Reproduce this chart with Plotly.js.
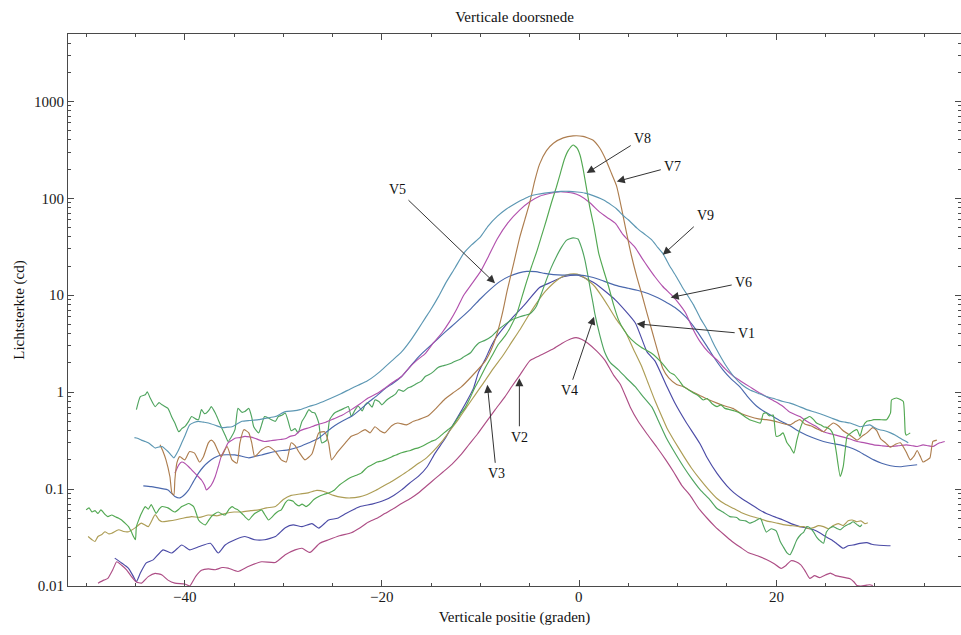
<!DOCTYPE html>
<html>
<head>
<meta charset="utf-8">
<script src="https://cdn.plot.ly/plotly-3.0.1.min.js"></script>
<style>
  html, body { margin: 0; padding: 0; background: #fff; }
  #chart { width: 961px; height: 635px; }
</style>
</head>
<body>
<div id="chart"></div>
<script>
// Vertical cross sections V1..V9: [position (degrees), luminous intensity (cd)]
const v1Pts = [[-47.1,0.0194],[-46.4,0.0173],[-45.7,0.0152],[-45.2,0.0125],[-44.9,0.0111],[-44.5,0.0136],[-43.9,0.0173],[-43.2,0.0186],[-42.2,0.0236],[-41.3,0.0219],[-40.3,0.0265],[-39.5,0.0236],[-38.5,0.0256],[-37.4,0.0276],[-36.6,0.0219],[-35.9,0.0265],[-34.9,0.030],[-33.9,0.0324],[-32.9,0.030],[-31.9,0.030],[-30.8,0.0324],[-29.8,0.040],[-29.0,0.0427],[-28.1,0.041],[-27.1,0.044],[-26.4,0.0396],[-25.4,0.048],[-24.5,0.050],[-23.6,0.0563],[-22.2,0.066],[-21.0,0.070],[-19.7,0.077],[-18.8,0.086],[-18.0,0.098],[-17.2,0.115],[-16.3,0.135],[-15.4,0.17],[-14.6,0.235],[-13.6,0.33],[-12.9,0.44],[-12.1,0.6],[-11.4,0.8],[-10.7,1.1],[-10.2,1.6],[-9.5,2.2],[-8.9,3.0],[-8.3,3.8],[-7.0,5.5],[-5.6,7.8],[-4.0,12],[-2.9,13.5],[-1.6,15.5],[-0.2,16.2],[1.6,13.3],[3.7,8.9],[5.7,5.2],[6.9,2.6],[7.7,2.1],[8.9,1.15],[9.7,0.78],[10.8,0.5],[12.3,0.29],[13.0,0.21],[14.0,0.145],[15.0,0.108],[15.7,0.092],[16.5,0.08],[17.3,0.071],[18.2,0.062],[19.0,0.056],[20.0,0.051],[20.7,0.048],[21.5,0.044],[22.4,0.041],[23.1,0.0396],[23.8,0.038],[24.5,0.035],[25.1,0.032],[25.6,0.030],[26.1,0.0276],[26.8,0.0245],[27.3,0.026],[27.8,0.0265],[28.5,0.0275],[29.2,0.028],[29.7,0.027],[30.2,0.0265],[30.9,0.0262],[31.6,0.026]];

const v2Pts = [[-48.8,0.0107],[-48.2,0.0115],[-47.8,0.012],[-47.3,0.0147],[-46.9,0.0178],[-46.4,0.0164],[-45.9,0.0147],[-45.4,0.0125],[-44.9,0.011],[-44.4,0.0107],[-43.7,0.0125],[-43.0,0.0135],[-42.3,0.013],[-41.7,0.0115],[-41.0,0.0107],[-40.0,0.0105],[-39.5,0.0100],[-38.9,0.0125],[-38.3,0.0145],[-37.6,0.0150],[-36.9,0.0147],[-36.2,0.0155],[-35.6,0.0153],[-34.6,0.0141],[-33.5,0.016],[-32.2,0.0178],[-30.8,0.0175],[-29.8,0.021],[-28.8,0.0236],[-28.1,0.0245],[-27.3,0.0222],[-26.3,0.0276],[-25.4,0.030],[-24.3,0.033],[-23.1,0.0355],[-22.2,0.040],[-21.4,0.0455],[-20.5,0.050],[-19.7,0.056],[-18.8,0.063],[-18.0,0.071],[-17.1,0.080],[-16.3,0.091],[-15.5,0.107],[-14.6,0.128],[-13.8,0.15],[-12.9,0.18],[-12.0,0.225],[-11.2,0.285],[-10.3,0.37],[-9.5,0.48],[-8.5,0.66],[-7.5,0.9],[-6.8,1.15],[-6.0,1.5],[-5.0,2.1],[-4.3,2.3],[-3.4,2.55],[-2.6,2.8],[-1.7,3.2],[-0.8,3.55],[-0.3,3.65],[0.3,3.5],[0.9,3.2],[1.8,2.65],[2.6,2.15],[3.5,1.5],[4.2,1.2],[5.2,0.7],[6.0,0.5],[6.9,0.37],[7.9,0.27],[8.8,0.2],[9.6,0.15],[10.4,0.11],[11.3,0.085],[12.1,0.064],[13.0,0.05],[13.8,0.041],[14.7,0.034],[15.5,0.029],[16.4,0.025],[17.2,0.022],[18.1,0.0205],[19.0,0.0188],[19.8,0.017],[20.5,0.0152],[21.0,0.0163],[21.5,0.0182],[22.0,0.0178],[22.5,0.0165],[22.9,0.0145],[23.4,0.012],[23.9,0.0128],[24.4,0.0122],[25.0,0.013],[25.5,0.0136],[26.0,0.0128],[26.5,0.0125],[27.0,0.0122],[27.5,0.0119],[27.9,0.011],[28.2,0.0101],[28.6,0.0100],[29.2,0.0102],[29.5,0.0103],[29.8,0.0101]];

const v3Pts = [[-49.8,0.0324],[-49.4,0.030],[-49.1,0.0288],[-48.8,0.0324],[-48.4,0.034],[-48.1,0.0363],[-47.7,0.0345],[-47.4,0.035],[-46.7,0.038],[-46.2,0.0365],[-45.7,0.0363],[-45.0,0.040],[-44.4,0.0445],[-43.7,0.041],[-43.0,0.0545],[-42.6,0.048],[-42.3,0.046],[-41.6,0.047],[-41.0,0.048],[-40.2,0.050],[-39.3,0.052],[-38.5,0.051],[-37.6,0.054],[-36.7,0.053],[-35.9,0.056],[-35.0,0.058],[-34.2,0.058],[-33.3,0.060],[-32.5,0.061],[-31.7,0.064],[-30.8,0.066],[-30.0,0.078],[-29.2,0.086],[-28.3,0.089],[-27.4,0.092],[-26.6,0.097],[-25.8,0.094],[-24.9,0.086],[-24.0,0.082],[-23.2,0.081],[-22.3,0.083],[-21.5,0.088],[-20.6,0.097],[-19.8,0.108],[-19.0,0.12],[-18.2,0.135],[-17.3,0.155],[-16.5,0.178],[-15.6,0.205],[-14.8,0.245],[-13.9,0.31],[-13.1,0.40],[-12.2,0.53],[-11.4,0.70],[-10.5,0.95],[-9.7,1.24],[-8.7,1.75],[-7.7,2.4],[-6.9,3.2],[-6.0,4.4],[-5.2,6.0],[-4.3,8.3],[-3.4,11],[-2.6,13.3],[-1.7,15.5],[-0.9,16.5],[-0.2,16.5],[0.5,15.3],[1.0,14],[1.6,12.3],[2.3,9.8],[3.0,7.6],[3.8,5.6],[4.7,4.2],[5.5,2.8],[6.4,1.8],[7.0,1.25],[7.7,0.82],[8.4,0.56],[8.9,0.43],[9.7,0.31],[10.6,0.22],[11.4,0.165],[12.3,0.125],[13.1,0.1],[14.0,0.08],[14.8,0.07],[15.7,0.063],[16.5,0.057],[17.3,0.053],[18.2,0.050],[19.0,0.047],[19.9,0.045],[20.7,0.043],[21.5,0.042],[22.3,0.041],[22.8,0.041],[23.3,0.039],[23.8,0.040],[24.3,0.042],[24.8,0.041],[25.3,0.039],[25.8,0.042],[26.3,0.044],[26.8,0.042],[27.3,0.047],[27.7,0.048],[28.2,0.046],[28.6,0.047],[29.0,0.044],[29.3,0.045]];

const v4Pts = [[-44.9,0.66],[-44.5,0.90],[-44.0,0.94],[-43.8,1.01],[-43.5,0.87],[-43.0,0.71],[-42.6,0.78],[-42.3,0.74],[-41.7,0.68],[-41.3,0.55],[-41.0,0.48],[-40.6,0.39],[-40.3,0.42],[-40.0,0.44],[-39.6,0.50],[-39.3,0.56],[-38.9,0.53],[-38.6,0.52],[-38.3,0.66],[-38.0,0.60],[-37.8,0.61],[-37.5,0.66],[-37.3,0.71],[-36.9,0.61],[-36.6,0.52],[-36.3,0.44],[-35.9,0.36],[-35.6,0.31],[-35.3,0.34],[-34.9,0.41],[-34.6,0.68],[-34.2,0.62],[-33.9,0.63],[-33.5,0.68],[-33.2,0.55],[-33.0,0.44],[-32.5,0.38],[-32.2,0.46],[-31.9,0.56],[-31.5,0.54],[-31.2,0.52],[-30.8,0.50],[-30.5,0.56],[-30.1,0.58],[-29.8,0.61],[-29.5,0.50],[-29.2,0.40],[-28.8,0.42],[-28.5,0.38],[-28.1,0.50],[-27.8,0.56],[-27.4,0.66],[-27.1,0.62],[-26.8,0.61],[-26.4,0.48],[-26.1,0.30],[-25.6,0.32],[-25.3,0.52],[-24.8,0.61],[-24.4,0.64],[-24.1,0.66],[-23.7,0.69],[-23.4,0.71],[-23.1,0.56],[-22.7,0.66],[-22.4,0.72],[-22.0,0.64],[-21.7,0.74],[-21.4,0.78],[-21.0,0.70],[-20.7,0.83],[-20.3,0.80],[-20.0,0.74],[-19.5,0.83],[-19.0,0.90],[-18.6,0.96],[-18.3,1.06],[-17.8,1.02],[-17.4,1.10],[-17.0,1.14],[-16.5,1.22],[-16.0,1.30],[-15.6,1.45],[-15.2,1.52],[-14.8,1.62],[-14.3,1.8],[-13.9,1.86],[-13.4,1.92],[-12.9,2.0],[-12.5,2.1],[-12.0,2.2],[-11.6,2.35],[-11.0,2.55],[-10.6,2.9],[-10.2,3.2],[-9.6,3.4],[-8.9,3.75],[-8.2,4.4],[-7.5,5.0],[-6.8,5.6],[-6.0,6.0],[-5.5,6.2],[-5.0,6.4],[-4.6,7.0],[-4.3,7.8],[-3.8,10.5],[-3.3,14.5],[-2.8,19.5],[-2.3,25],[-1.8,31],[-1.25,37],[-0.6,39],[-0.1,38],[0.3,30],[0.6,23],[0.9,16],[1.1,12.3],[1.4,8.5],[1.6,6.5],[2.1,3.9],[2.6,2.6],[3.2,2.0],[4.0,1.7],[4.8,1.4],[5.7,1.14],[6.5,0.9],[7.4,0.7],[8.0,0.52],[8.9,0.33],[9.8,0.23],[10.6,0.17],[11.5,0.125],[12.3,0.098],[13.3,0.077],[14.0,0.063],[14.6,0.058],[15.3,0.052],[16.0,0.051],[16.3,0.048],[16.9,0.047],[17.3,0.0445],[17.9,0.047],[18.4,0.050],[18.7,0.042],[19.0,0.036],[19.5,0.039],[20.0,0.037],[20.4,0.029],[20.7,0.0256],[21.1,0.022],[21.4,0.021],[21.7,0.024],[22.1,0.030],[22.5,0.034],[22.8,0.036],[23.1,0.041],[23.4,0.040],[23.8,0.036],[24.1,0.032],[24.5,0.029],[24.8,0.0276],[25.1,0.036],[25.5,0.040],[25.8,0.041],[26.2,0.039],[26.5,0.038],[26.9,0.041],[27.2,0.0427],[27.5,0.044],[27.8,0.046],[28.2,0.043],[28.5,0.041],[28.7,0.043]];

const v5Pts = [[-44.2,0.108],[-43.4,0.106],[-42.3,0.101],[-41.7,0.098],[-41.0,0.084],[-40.5,0.081],[-40.0,0.088],[-39.6,0.098],[-39.1,0.12],[-38.6,0.146],[-38.1,0.17],[-37.6,0.19],[-37.0,0.21],[-36.3,0.225],[-35.6,0.226],[-34.9,0.225],[-34.2,0.218],[-33.5,0.21],[-32.9,0.217],[-32.2,0.225],[-31.5,0.235],[-30.8,0.244],[-30.1,0.25],[-29.5,0.254],[-28.3,0.275],[-27.4,0.30],[-26.5,0.33],[-25.6,0.39],[-24.8,0.45],[-23.9,0.51],[-23.1,0.56],[-22.2,0.66],[-21.4,0.78],[-20.5,0.92],[-19.7,1.08],[-18.8,1.25],[-18.0,1.45],[-17.1,1.85],[-16.3,2.3],[-15.6,2.7],[-14.8,3.2],[-13.9,3.9],[-13.0,4.7],[-12.0,5.8],[-11.0,7.2],[-10.0,9.2],[-9.0,11.5],[-8.0,13.9],[-7.0,15.8],[-6.1,17],[-5.3,17.6],[-4.4,17.5],[-3.5,16.8],[-2.6,16.3],[-1.7,16.1],[-0.8,16.2],[0.1,16.1],[1.0,15.6],[2.0,14.6],[3.0,13.4],[4.0,12.4],[5.0,11.8],[6.0,11.2],[7.0,10.4],[8.0,9.4],[8.8,8.5],[9.7,7.5],[10.8,6.0],[11.8,4.5],[13.0,2.95],[13.8,2.2],[14.6,1.7],[15.4,1.38],[16.3,1.14],[17.1,0.9],[18.0,0.72],[18.8,0.63],[19.7,0.56],[20.5,0.5],[21.4,0.45],[22.2,0.4],[23.1,0.36],[24.0,0.33],[24.8,0.31],[25.7,0.295],[26.5,0.286],[27.4,0.27],[28.2,0.25],[29.0,0.225],[29.9,0.20],[30.7,0.185],[31.6,0.174],[32.6,0.17],[33.4,0.174],[34.3,0.178]];

const v6Pts = [[-41.0,0.146],[-40.6,0.178],[-40.3,0.19],[-40.0,0.185],[-39.6,0.17],[-39.3,0.158],[-38.8,0.14],[-38.3,0.124],[-38.0,0.11],[-37.8,0.098],[-37.5,0.104],[-37.3,0.11],[-36.9,0.135],[-36.6,0.17],[-36.3,0.216],[-35.9,0.26],[-35.6,0.30],[-35.2,0.32],[-34.9,0.335],[-34.4,0.34],[-33.9,0.35],[-33.4,0.345],[-32.9,0.335],[-32.4,0.32],[-31.9,0.31],[-31.3,0.315],[-30.8,0.32],[-30.3,0.325],[-29.8,0.33],[-29.3,0.35],[-28.8,0.36],[-28.3,0.40],[-27.4,0.43],[-26.6,0.46],[-25.7,0.49],[-24.9,0.53],[-24.0,0.58],[-23.1,0.66],[-22.2,0.76],[-21.4,0.87],[-20.4,0.98],[-19.6,1.12],[-18.8,1.28],[-18.0,1.45],[-17.2,1.8],[-16.4,2.15],[-15.6,2.5],[-14.8,3.2],[-13.9,4.1],[-13.1,5.4],[-12.4,7.2],[-11.7,10],[-10.9,13],[-10.0,17.5],[-9.2,25],[-8.3,38],[-7.2,56],[-6.0,76],[-5.0,92],[-4.0,105],[-3.0,112],[-1.9,117],[-0.6,113],[0.1,106],[1.1,90],[2.1,72],[3.0,62],[3.7,55],[4.4,43],[5.1,36],[5.7,31],[6.4,24],[7.0,19.5],[7.7,15.5],[8.5,12.3],[9.4,10],[10.1,8.3],[10.8,6.6],[11.5,4.6],[12.3,3.3],[13.1,2.6],[14.0,2.15],[14.8,1.75],[15.7,1.45],[16.5,1.28],[17.3,1.14],[18.2,1.0],[19.0,0.9],[19.9,0.8],[20.7,0.71],[21.4,0.62],[22.4,0.56],[23.1,0.5],[23.4,0.48],[24.1,0.44],[24.8,0.39],[25.6,0.37],[26.5,0.35],[27.4,0.33],[28.2,0.31],[29.0,0.3],[29.9,0.286],[30.7,0.28],[31.6,0.275],[32.4,0.28],[33.2,0.286],[33.8,0.28],[34.3,0.275],[34.9,0.286],[35.4,0.28],[35.9,0.275],[36.3,0.29],[36.6,0.30],[37.1,0.31]];

const v7Pts = [[-42.5,0.286],[-42.2,0.244],[-41.9,0.2],[-41.5,0.134],[-41.3,0.091],[-41.1,0.087],[-41.0,0.124],[-40.8,0.185],[-40.5,0.216],[-40.0,0.2],[-39.5,0.244],[-39.0,0.235],[-38.5,0.19],[-38.1,0.216],[-37.6,0.30],[-37.3,0.32],[-37.0,0.30],[-36.6,0.244],[-36.3,0.216],[-35.7,0.275],[-35.2,0.2],[-34.7,0.185],[-34.4,0.30],[-34.0,0.41],[-33.5,0.38],[-33.2,0.30],[-32.9,0.216],[-32.2,0.254],[-31.5,0.275],[-30.8,0.244],[-30.2,0.2],[-29.7,0.19],[-29.2,0.30],[-28.8,0.28],[-28.4,0.24],[-27.8,0.2],[-27.1,0.23],[-26.4,0.38],[-25.8,0.39],[-25.4,0.30],[-25.1,0.2],[-24.5,0.24],[-23.7,0.30],[-23.1,0.35],[-22.5,0.37],[-21.7,0.41],[-21.2,0.38],[-20.7,0.44],[-20.2,0.40],[-19.7,0.38],[-19.0,0.45],[-18.4,0.48],[-17.5,0.46],[-16.8,0.50],[-16.3,0.52],[-15.3,0.57],[-14.5,0.68],[-13.6,0.85],[-12.8,0.98],[-12.0,1.12],[-10.9,1.45],[-9.5,2.1],[-8.8,2.9],[-8.2,4.4],[-7.7,7],[-7.3,11],[-6.6,22],[-6.0,40],[-5.5,60],[-5.0,90],[-4.5,150],[-4.0,225],[-3.3,310],[-2.6,370],[-1.6,420],[-0.6,440],[0.4,435],[1.4,400],[2.1,330],[2.8,240],[3.3,180],[3.8,135],[4.3,80],[4.8,45],[5.3,26],[5.9,15],[6.4,10],[6.9,6.5],[7.4,4.3],[8.0,2.6],[8.5,1.75],[9.1,1.4],[9.9,1.2],[10.6,1.14],[11.4,1.02],[12.3,0.92],[13.1,0.84],[14.0,0.77],[14.8,0.72],[15.6,0.68],[16.5,0.6],[17.3,0.56],[18.2,0.53],[19.0,0.52],[19.9,0.5],[20.5,0.48],[21.4,0.46],[22.0,0.50],[22.4,0.52],[22.9,0.47],[23.5,0.45],[24.1,0.42],[24.8,0.39],[25.3,0.44],[25.8,0.48],[26.3,0.45],[26.8,0.40],[27.5,0.36],[28.2,0.32],[28.7,0.35],[29.2,0.38],[29.8,0.43],[30.2,0.40],[30.6,0.33],[31.1,0.30],[31.6,0.27],[32.1,0.29],[32.6,0.30],[33.2,0.24],[33.6,0.20],[34.0,0.22],[34.3,0.25],[34.6,0.22],[34.9,0.19],[35.3,0.20],[35.6,0.21],[35.9,0.31],[36.3,0.32]];

const v8Pts = [[-50.0,0.061],[-49.7,0.064],[-49.4,0.058],[-49.1,0.060],[-48.8,0.056],[-48.5,0.061],[-48.1,0.055],[-47.8,0.052],[-47.4,0.054],[-47.1,0.052],[-46.7,0.050],[-46.4,0.048],[-46.0,0.044],[-45.7,0.041],[-45.4,0.036],[-45.2,0.0324],[-45.0,0.030],[-44.9,0.041],[-44.6,0.050],[-44.4,0.056],[-44.0,0.066],[-43.7,0.062],[-43.4,0.069],[-42.9,0.056],[-42.6,0.062],[-42.3,0.066],[-41.7,0.064],[-41.3,0.060],[-41.0,0.058],[-40.6,0.062],[-40.3,0.066],[-39.9,0.069],[-39.6,0.071],[-39.1,0.066],[-38.8,0.055],[-38.6,0.048],[-38.2,0.044],[-37.9,0.0427],[-37.6,0.047],[-37.3,0.052],[-36.9,0.056],[-36.6,0.058],[-36.2,0.055],[-35.9,0.054],[-35.5,0.062],[-35.2,0.066],[-34.9,0.063],[-34.6,0.061],[-34.2,0.056],[-33.9,0.052],[-33.5,0.048],[-33.2,0.052],[-32.9,0.056],[-32.5,0.059],[-32.2,0.061],[-31.9,0.055],[-31.5,0.048],[-31.1,0.052],[-30.8,0.056],[-30.5,0.059],[-30.2,0.061],[-29.8,0.072],[-29.5,0.077],[-29.0,0.075],[-28.8,0.071],[-28.4,0.067],[-28.1,0.070],[-27.7,0.066],[-27.4,0.069],[-26.9,0.078],[-26.4,0.084],[-25.9,0.088],[-25.4,0.091],[-24.8,0.098],[-24.3,0.11],[-23.9,0.118],[-23.4,0.128],[-23.0,0.134],[-22.5,0.14],[-22.1,0.146],[-21.7,0.16],[-21.4,0.17],[-20.9,0.18],[-20.5,0.19],[-20.0,0.195],[-19.7,0.2],[-19.2,0.21],[-18.8,0.22],[-18.4,0.228],[-18.0,0.237],[-17.5,0.245],[-17.1,0.25],[-16.7,0.26],[-16.3,0.266],[-15.8,0.28],[-15.4,0.295],[-15.0,0.31],[-14.6,0.32],[-14.1,0.35],[-13.7,0.38],[-13.3,0.41],[-12.9,0.44],[-12.4,0.52],[-12.0,0.6],[-11.6,0.68],[-11.1,0.85],[-10.6,1.1],[-10.2,1.3],[-9.5,1.8],[-8.8,2.4],[-8.2,3.1],[-7.5,3.8],[-7.0,4.6],[-6.3,6.5],[-5.8,9.5],[-5.3,14],[-4.8,20],[-4.3,28],[-3.8,41],[-3.3,60],[-2.8,90],[-2.3,130],[-1.9,180],[-1.5,250],[-1.1,310],[-0.6,355],[-0.2,330],[0.1,280],[0.4,205],[0.8,120],[1.1,80],[1.5,52],[2.0,27],[2.5,18],[3.0,12.3],[3.5,8],[4.0,5.6],[4.6,4.3],[5.3,3.5],[6.3,2.9],[7.4,2.5],[8.4,2.0],[9.2,1.6],[9.7,1.5],[10.2,1.3],[10.6,1.14],[11.1,1.06],[11.6,0.98],[12.1,0.92],[12.6,0.83],[13.0,0.86],[13.5,0.76],[14.0,0.71],[14.4,0.74],[14.8,0.68],[15.3,0.66],[15.8,0.64],[16.3,0.61],[16.8,0.56],[17.3,0.52],[17.8,0.5],[18.4,0.48],[18.7,0.6],[19.0,0.61],[19.3,0.57],[19.7,0.58],[20.0,0.35],[20.4,0.36],[20.7,0.38],[21.1,0.30],[21.4,0.275],[21.8,0.235],[22.1,0.32],[22.4,0.41],[22.8,0.52],[23.1,0.54],[23.4,0.56],[23.8,0.52],[24.1,0.48],[24.5,0.46],[24.8,0.44],[25.2,0.43],[25.5,0.41],[25.8,0.36],[26.1,0.24],[26.5,0.135],[26.8,0.17],[27.0,0.25],[27.2,0.35],[27.6,0.38],[27.9,0.40],[28.2,0.41],[28.5,0.35],[28.8,0.44],[29.2,0.50],[29.6,0.51],[29.9,0.52],[30.5,0.52],[31.2,0.52],[31.6,0.61],[31.7,0.83],[32.0,0.86],[32.2,0.87],[32.6,0.84],[32.9,0.80],[33.1,0.38],[33.2,0.36],[33.6,0.38]];

const v9Pts = [[-45.1,0.34],[-44.8,0.335],[-44.4,0.32],[-44.0,0.31],[-43.7,0.30],[-43.3,0.28],[-43.0,0.265],[-42.6,0.272],[-42.3,0.275],[-42.0,0.26],[-41.7,0.244],[-41.4,0.225],[-41.1,0.21],[-40.7,0.244],[-40.3,0.30],[-40.0,0.35],[-39.5,0.46],[-39.0,0.49],[-38.6,0.50],[-38.1,0.49],[-37.6,0.48],[-36.9,0.455],[-36.2,0.43],[-35.7,0.435],[-35.2,0.44],[-34.7,0.47],[-34.2,0.50],[-33.4,0.51],[-32.5,0.52],[-31.7,0.54],[-30.8,0.56],[-29.8,0.63],[-29.0,0.64],[-28.3,0.66],[-27.4,0.71],[-26.5,0.76],[-25.7,0.82],[-25.0,0.88],[-24.1,0.97],[-23.2,1.08],[-22.4,1.18],[-21.5,1.3],[-20.7,1.48],[-20.0,1.7],[-19.0,2.1],[-18.0,2.6],[-17.1,3.4],[-16.3,4.5],[-15.6,5.8],[-15.0,7.2],[-14.3,9.5],[-13.5,13.5],[-12.6,19],[-11.7,27],[-10.9,33],[-10.0,40],[-9.2,52],[-8.3,65],[-7.4,77],[-6.5,88],[-5.7,97],[-5.0,105],[-4.2,110],[-3.5,113],[-2.6,116],[-1.8,118],[-1.0,118],[-0.2,116],[0.6,113],[1.5,106],[2.5,96],[3.3,85],[3.8,78],[4.5,66],[5.0,60],[5.9,49],[6.6,43],[7.4,37],[8.0,31],[8.5,27],[9.2,20],[9.8,16],[10.5,12],[11.2,9.3],[11.6,8.0],[12.3,5.8],[13.0,4.4],[13.5,3.4],[14.0,2.7],[14.8,1.95],[15.7,1.45],[16.5,1.2],[17.3,1.06],[18.2,0.97],[19.0,0.9],[19.9,0.85],[20.7,0.8],[21.4,0.77],[22.2,0.72],[23.1,0.66],[24.0,0.62],[24.8,0.58],[25.6,0.54],[26.5,0.50],[27.0,0.49],[27.5,0.48],[28.0,0.46],[28.5,0.44],[29.0,0.45],[29.5,0.46],[30.0,0.43],[30.5,0.41],[31.0,0.40],[31.6,0.38],[32.1,0.36],[32.6,0.335],[32.9,0.32],[33.2,0.31],[33.4,0.30]];

const seriesNames = ['V1','V2','V3','V4','V5','V6','V7','V8','V9'];
const seriesPts = [v1Pts, v2Pts, v3Pts, v4Pts, v5Pts, v6Pts, v7Pts, v8Pts, v9Pts];

// Axis ticks
const xTickVals = [-40, -20, 0, 20];
const xTickText = ['\u221240', '\u221220', '0', '20'];
const xMinorVals = [-50, -45, -35, -30, -25, -15, -10, -5, 5, 10, 15, 25, 30, 35];
const yTickVals = [0.01, 0.1, 1, 10, 100, 1000];
const yTickText = ['0.01', '0.1', '1', '10', '100', '1000'];

// Line colours in plotting order
const lineColors = ['#4b4ba6', '#ad4d85', '#ad9d55', '#4fa45f', '#4a68ad', '#b251ad', '#ad7d4e', '#52a852', '#5c97b3'];

const yMinorVals = [];
yTickVals.forEach(d => { for (let k = 2; k <= 9; k++) yMinorVals.push(+(k * d).toPrecision(3)); });

const traces = seriesPts.map((pts, i) => ({
  type: 'scatter',
  mode: 'lines',
  name: seriesNames[i],
  x: pts.map(p => p[0]),
  y: pts.map(p => p[1]),
  line: { color: lineColors[i], width: 1.15, shape: 'spline', smoothing: 0.5 },
  hoverinfo: 'x+y+name'
}));

const frameColor = '#4a4a4a';
const serif = '"Liberation Serif", "Times New Roman", Times, serif';

function callout(text, x, y, ax, ay) {
  return {
    text: text, x: x, y: Math.log10(y), xref: 'x', yref: 'y',
    ax: ax, ay: ay, axref: 'pixel', ayref: 'pixel',
    showarrow: true, arrowhead: 2, arrowsize: 1.6, arrowwidth: 1,
    arrowcolor: '#333', borderpad: 3, standoff: 0,
    font: { family: serif, size: 14, color: '#111' }
  };
}

// Bottom tick labels sit close under the frame
const xTickLabels = xTickVals.map((v, i) => ({
  text: xTickText[i], x: v, xref: 'x', y: 0, yref: 'paper',
  yanchor: 'middle', yshift: -11, showarrow: false,
  font: { family: serif, size: 15, color: '#1a1a1a' }
}));

const layout = {
  width: 961, height: 635,
  margin: { l: 68, r: 0, t: 34, b: 49 },
  paper_bgcolor: '#ffffff', plot_bgcolor: '#ffffff',
  showlegend: false,
  font: { family: serif, size: 15, color: '#1a1a1a' },
  title: {
    text: 'Verticale doorsnede',
    x: 0.5, xref: 'paper', xanchor: 'center',
    y: 1 - 17 / 635, yref: 'container', yanchor: 'middle',
    font: { family: serif, size: 15, color: '#111' }
  },
  xaxis: {
    range: [-51.84, 38.75],
    showgrid: false, zeroline: false,
    showline: true, linecolor: frameColor, linewidth: 1, mirror: 'ticks',
    ticks: 'inside', ticklen: 6, tickwidth: 1, tickcolor: frameColor,
    tickvals: xTickVals, showticklabels: false,
    minor: { ticks: 'inside', ticklen: 3, tickwidth: 1, tickcolor: frameColor, tickvals: xMinorVals },
    title: { text: 'Verticale positie (graden)', standoff: 25, font: { family: serif, size: 15, color: '#111' } }
  },
  yaxis: {
    type: 'log',
    range: [-2, 3.695],
    showgrid: false, zeroline: false,
    showline: true, linecolor: frameColor, linewidth: 1, mirror: 'ticks',
    ticks: 'inside', ticklen: 6, tickwidth: 1, tickcolor: frameColor,
    tickvals: yTickVals, ticktext: yTickText,
    tickfont: { family: serif, size: 15, color: '#1a1a1a' },
    minor: { ticks: 'inside', ticklen: 3, tickwidth: 1, tickcolor: frameColor, tickvals: yMinorVals },
    title: { text: 'Lichtsterkte (cd)', standoff: 5, font: { family: serif, size: 15, color: '#111' } }
  },
  annotations: [
    callout('V8', 0.78, 182, 56, -35),
    callout('V7', 3.83, 149, 56, -15),
    callout('V9', 8.5, 26.1, 43, -39),
    callout('V6', 9.3, 9.47, 73, -15),
    callout('V1', 5.85, 5.07, 110, 10),
    callout('V4', 1.52, 6.0, -25, 74),
    callout('V2', -6.05, 1.39, 0, 59),
    callout('V3', -9.3, 1.19, 9, 89),
    callout('V5', -8.52, 13.3, -98, -94)
  ].concat(xTickLabels)
};

Plotly.newPlot('chart', traces, layout, { staticPlot: true, displayModeBar: false });
</script>
</body>
</html>
